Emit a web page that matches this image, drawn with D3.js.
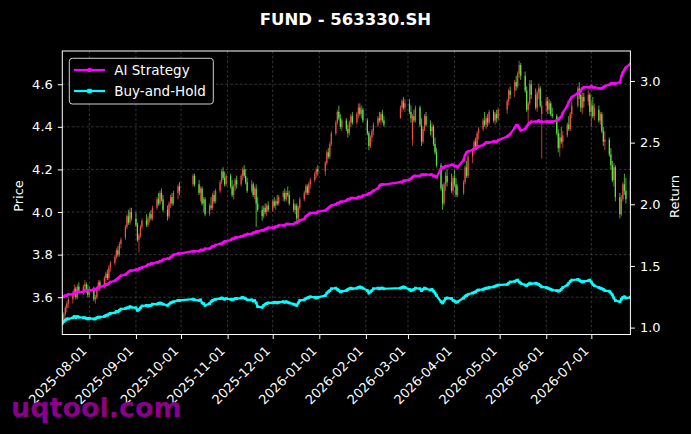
<!DOCTYPE html>
<html>
<head>
<meta charset="utf-8">
<script src="https://cdn.jsdelivr.net/npm/d3@7"></script>
<style>
  html, body { margin: 0; padding: 0; background: #000; }
  svg { display: block; }
  text { font-family: "DejaVu Sans", sans-serif; }
</style>
</head>
<body>
<svg id="chart" width="691" height="434"></svg>
<script>
// trading calendar: first/last session and exchange holidays
const firstDay = "2025-07-14";
const lastDay = "2026-07-27";
const holidays = [
  "2025-10-01","2025-10-02","2025-10-03","2025-10-06","2025-10-07","2025-10-08",
  "2026-01-01","2026-01-02",
  "2026-02-16","2026-02-17","2026-02-18","2026-02-19","2026-02-20","2026-02-23",
  "2026-04-06","2026-05-01","2026-05-04","2026-05-05","2026-06-19"
];

// daily prices, one group per week
const open = [
  3.52,3.49,3.52,3.55,3.57, 3.59,3.62,3.64,3.60,3.65, 3.63,3.65,3.66,3.63,3.61,
  3.64,3.59,3.60,3.64,3.67, 3.65,3.69,3.71,3.69,3.74, 3.76,3.79,3.82,3.80,3.85,
  3.88,3.93,3.98,3.95,4.00, 3.97,3.94,3.87,3.89,3.93, 3.96,3.94,3.97,3.99,3.97,
  4.02,4.06,4.04,4.09,4.06, 4.01,3.98,4.04,4.07,4.04, 4.09,4.12, 4.13,4.17,
  4.13,4.09,4.11,4.04,4.06, 3.99,4.03,4.02,4.08,4.05, 4.10,4.14,4.19,4.16,4.13,
  4.17,4.12,4.08,4.12,4.15, 4.13,4.17,4.20,4.17,4.14, 4.10,4.13,4.08,4.11,4.04,
  4.01,3.98,4.02,4.00,4.03, 4.01,4.05,4.03,4.05,4.04, 4.07,4.09,4.06,4.09,4.08,
  4.04,4.01,4.03,3.97,4.02, 4.06,4.09,4.12,4.09,4.13, 4.15,4.18,4.20,
  4.19,4.23,4.28,4.26,4.32, 4.37,4.42,4.47,4.44,4.40, 4.43,4.39,4.37,4.42,4.45,
  4.42,4.46,4.49,4.46,4.48, 4.43,4.37,4.31,4.35,4.38, 4.41,4.44,4.43,4.46,4.43,
  4.44,4.49,4.52,4.49,
  4.51,4.47,4.34,4.45,4.43, 4.49,4.41,4.33,4.39,4.45, 4.41,4.38,4.40,4.32,4.28,
  4.22,4.11,4.04,4.13,4.17, 4.14,4.10,4.16,4.13,4.08, 4.09,4.14,4.21,4.17,
  4.26,4.29,4.33,4.31,4.37, 4.39,4.43,4.41,4.44,4.42, 4.47,4.43,4.46,4.44,
  4.48,4.52,4.57, 4.57,4.61,4.59,4.65,4.69, 4.64,4.57,4.48,4.51,4.60,
  4.55,4.49,4.56,4.58,4.46, 4.50,4.52,4.48,4.51,4.46, 4.45,4.37,4.30,4.35,4.33,
  4.36,4.41,4.39,4.46, 4.50,4.58,4.55,4.49,4.54, 4.52,4.55,4.47,4.50,4.45,
  4.48,4.43,4.46,4.38,4.33, 4.34,4.27,4.22,4.15,4.21, 4.07,3.99,4.06,4.13,4.10,
  4.05
];
const high = [
  3.54,3.53,3.56,3.58,3.60, 3.63,3.66,3.65,3.66,3.67, 3.66,3.68,3.67,3.66,3.65,
  3.65,3.61,3.65,3.68,3.68, 3.70,3.72,3.73,3.75,3.77, 3.80,3.83,3.84,3.86,3.88,
  3.94,3.99,4.01,4.02,4.02, 4.00,3.95,3.90,3.94,3.97, 3.99,3.98,4.00,4.01,4.03,
  4.07,4.09,4.10,4.11,4.08, 4.03,4.05,4.08,4.09,4.10, 4.13,4.14, 4.18,4.18,
  4.15,4.12,4.12,4.07,4.07, 4.04,4.07,4.09,4.10,4.11, 4.15,4.20,4.21,4.19,4.18,
  4.18,4.15,4.13,4.16,4.17, 4.18,4.21,4.22,4.20,4.16, 4.15,4.14,4.12,4.13,4.07,
  4.03,4.03,4.04,4.04,4.05, 4.06,4.07,4.06,4.08,4.08, 4.10,4.11,4.10,4.12,4.10,
  4.06,4.04,4.04,4.03,4.07, 4.10,4.13,4.13,4.14,4.16, 4.19,4.21,4.22,
  4.24,4.29,4.30,4.33,4.38, 4.43,4.48,4.50,4.46,4.44, 4.44,4.41,4.43,4.46,4.47,
  4.47,4.51,4.51,4.50,4.49, 4.44,4.38,4.36,4.39,4.42, 4.45,4.47,4.47,4.48,4.45,
  4.50,4.53,4.54,4.53,
  4.53,4.50,4.46,4.48,4.50, 4.50,4.44,4.40,4.46,4.47, 4.43,4.42,4.41,4.35,4.30,
  4.23,4.13,4.14,4.19,4.20, 4.18,4.17,4.20,4.16,4.13, 4.15,4.22,4.24,4.27,
  4.30,4.34,4.35,4.38,4.40, 4.44,4.47,4.45,4.46,4.48, 4.48,4.47,4.48,4.49,
  4.53,4.58,4.59, 4.62,4.64,4.66,4.71,4.70, 4.66,4.59,4.52,4.62,4.62,
  4.58,4.57,4.60,4.59,4.52, 4.54,4.54,4.53,4.52,4.49, 4.46,4.39,4.37,4.40,4.38,
  4.42,4.45,4.47,4.52, 4.59,4.61,4.57,4.56,4.56, 4.57,4.56,4.52,4.54,4.51,
  4.50,4.47,4.47,4.40,4.38, 4.35,4.30,4.24,4.23,4.22, 4.09,4.08,4.14,4.18,4.16,
  4.17
];
const low = [
  3.48,3.48,3.51,3.53,3.55, 3.57,3.60,3.59,3.59,3.62, 3.61,3.63,3.62,3.60,3.60,
  3.58,3.57,3.59,3.63,3.63, 3.64,3.67,3.68,3.68,3.72, 3.75,3.78,3.79,3.79,3.83,
  3.87,3.92,3.94,3.94,3.96, 3.93,3.86,3.81,3.88,3.92, 3.93,3.93,3.95,3.96,3.96,
  4.01,4.03,4.03,4.05,4.00, 3.96,3.97,4.02,4.03,4.03, 4.06,4.08, 4.12,4.12,
  4.08,4.05,4.03,4.00,3.98, 3.98,4.01,4.01,4.04,4.04, 4.09,4.13,4.15,4.12,4.12,
  4.11,4.07,4.06,4.10,4.11, 4.12,4.15,4.16,4.13,4.09, 4.09,4.07,4.06,3.93,4.00,
  3.96,3.97,3.99,3.98,4.00, 4.00,4.02,4.01,4.03,4.03, 4.05,4.05,4.05,4.07,4.03,
  4.00,3.99,3.95,3.96,4.01, 4.05,4.08,4.08,4.08,4.11, 4.14,4.16,4.17,
  4.17,4.22,4.25,4.25,4.31, 4.36,4.41,4.43,4.39,4.38, 4.38,4.35,4.36,4.40,4.41,
  4.41,4.44,4.45,4.44,4.42, 4.36,4.29,4.30,4.33,4.36, 4.40,4.42,4.41,4.42,4.40,
  4.44,4.47,4.48,4.47,
  4.46,4.42,4.31,4.42,4.42, 4.40,4.31,4.32,4.38,4.40, 4.36,4.35,4.31,4.27,4.21,
  4.10,4.01,4.03,4.10,4.12, 4.09,4.08,4.12,4.07,4.07, 4.08,4.13,4.16,4.16,
  4.23,4.27,4.29,4.30,4.34, 4.38,4.40,4.39,4.40,4.41, 4.42,4.41,4.42,4.43,
  4.46,4.50,4.53, 4.54,4.57,4.58,4.63,4.62, 4.56,4.47,4.41,4.50,4.53,
  4.48,4.47,4.53,4.49,4.25, 4.47,4.46,4.46,4.45,4.44, 4.36,4.28,4.26,4.32,4.30,
  4.35,4.38,4.38,4.44, 4.49,4.53,4.47,4.46,4.49, 4.50,4.45,4.40,4.44,4.43,
  4.42,4.41,4.37,4.31,4.29, 4.26,4.20,4.14,4.12,4.05, 3.97,3.98,4.05,4.08,4.04,
  4.03
];
const close = [
  3.49,3.52,3.55,3.57,3.59, 3.62,3.64,3.60,3.65,3.63, 3.65,3.66,3.63,3.61,3.64,
  3.59,3.60,3.64,3.67,3.65, 3.69,3.71,3.69,3.74,3.76, 3.79,3.82,3.80,3.85,3.87,
  3.93,3.98,3.95,4.00,3.97, 3.94,3.87,3.89,3.93,3.96, 3.94,3.97,3.99,3.97,4.02,
  4.06,4.04,4.09,4.06,4.01, 3.98,4.04,4.07,4.04,4.09, 4.12,4.10, 4.17,4.13,
  4.09,4.11,4.04,4.06,3.99, 4.03,4.02,4.08,4.05,4.10, 4.14,4.19,4.16,4.13,4.17,
  4.12,4.08,4.12,4.15,4.13, 4.17,4.20,4.17,4.14,4.10, 4.13,4.08,4.11,4.04,4.01,
  3.98,4.02,4.00,4.03,4.01, 4.05,4.03,4.05,4.04,4.07, 4.09,4.06,4.09,4.08,4.04,
  4.01,4.03,3.97,4.02,4.06, 4.09,4.12,4.09,4.13,4.15, 4.18,4.20,4.19,
  4.23,4.28,4.26,4.32,4.37, 4.42,4.47,4.44,4.40,4.43, 4.39,4.37,4.42,4.45,4.42,
  4.46,4.49,4.46,4.48,4.43, 4.37,4.31,4.35,4.38,4.41, 4.44,4.43,4.46,4.43,4.41,
  4.49,4.52,4.49,4.51,
  4.47,4.44,4.45,4.43,4.49, 4.41,4.33,4.39,4.45,4.41, 4.38,4.40,4.32,4.28,4.22,
  4.11,4.04,4.13,4.17,4.14, 4.10,4.16,4.13,4.08,4.12, 4.14,4.21,4.17,4.26,
  4.29,4.33,4.31,4.37,4.39, 4.43,4.41,4.44,4.42,4.47, 4.43,4.46,4.44,4.48,
  4.52,4.57,4.55, 4.61,4.59,4.65,4.69,4.64, 4.57,4.48,4.51,4.60,4.55,
  4.49,4.56,4.58,4.50,4.50, 4.52,4.48,4.51,4.46,4.45, 4.37,4.30,4.35,4.33,4.36,
  4.41,4.39,4.46,4.50, 4.58,4.55,4.49,4.54,4.52, 4.55,4.47,4.50,4.45,4.49,
  4.43,4.46,4.38,4.33,4.34, 4.27,4.22,4.15,4.21,4.07, 3.99,4.06,4.13,4.10,4.06,
  4.15
];

// cumulative return of the two curves (right axis)
const aiStrategy = [
  1.25,1.25,1.26,1.26,1.27, 1.27,1.28,1.28,1.29,1.29, 1.29,1.30,1.30,1.30,1.30,
  1.31,1.31,1.32,1.33,1.33, 1.34,1.35,1.35,1.36,1.37, 1.38,1.39,1.40,1.41,1.42,
  1.43,1.44,1.45,1.46,1.46, 1.47,1.47,1.48,1.48,1.49, 1.50,1.51,1.51,1.52,1.52,
  1.53,1.53,1.54,1.54,1.55, 1.56,1.56,1.57,1.58,1.59, 1.60,1.60, 1.62,1.62,
  1.62,1.63,1.63,1.63,1.64, 1.64,1.65,1.66,1.66,1.67, 1.68,1.68,1.69,1.70,1.70,
  1.71,1.72,1.72,1.73,1.73, 1.74,1.74,1.75,1.75,1.76, 1.76,1.77,1.77,1.78,1.78,
  1.79,1.79,1.80,1.80,1.81, 1.81,1.81,1.82,1.82,1.83, 1.83,1.83,1.84,1.84,1.84,
  1.84,1.85,1.85,1.86,1.87, 1.88,1.90,1.91,1.92,1.93, 1.93,1.93,1.94,
  1.95,1.96,1.97,1.98,1.99, 2.00,2.01,2.01,2.02,2.02, 2.03,2.04,2.04,2.05,2.05,
  2.05,2.06,2.06,2.06,2.07, 2.08,2.09,2.09,2.10,2.11, 2.13,2.15,2.16,2.16,2.16,
  2.18,2.18,2.19,2.19,
  2.20,2.21,2.22,2.23,2.23, 2.23,2.24,2.24,2.24,2.24, 2.24,2.24,2.23,2.23,2.22,
  2.29,2.30,2.30,2.31,2.31, 2.32,2.32,2.31,2.31,2.30, 2.36,2.40,2.42,2.43,
  2.44,2.45,2.45,2.46,2.47, 2.48,2.49,2.50,2.50,2.50, 2.51,2.51,2.51,2.52,
  2.55,2.56,2.57, 2.62,2.64,2.64,2.62,2.60, 2.61,2.63,2.65,2.66,2.67,
  2.67,2.67,2.68,2.67,2.67, 2.67,2.67,2.67,2.67,2.67, 2.68,2.69,2.70,2.71,2.74,
  2.80,2.83,2.85,2.87, 2.90,2.91,2.92,2.94,2.95, 2.95,2.95,2.96,2.95,2.95,
  2.94,2.94,2.94,2.95,2.96, 2.97,2.98,2.98,2.98,2.98, 2.99,3.04,3.07,3.09,3.11,
  3.14
];
const buyAndHold = [
  1.035,1.05,1.06,1.07,1.07, 1.08,1.09,1.08,1.09,1.085, 1.08,1.08,1.075,1.07,1.075,
  1.07,1.07,1.08,1.085,1.085, 1.09,1.10,1.10,1.11,1.115, 1.12,1.13,1.13,1.14,1.15,
  1.155,1.16,1.16,1.17,1.165, 1.16,1.14,1.145,1.16,1.175, 1.18,1.175,1.18,1.18,1.19,
  1.19,1.195,1.20,1.195,1.19, 1.18,1.19,1.20,1.205,1.21, 1.22,1.22, 1.23,1.225,
  1.22,1.225,1.20,1.195,1.18, 1.195,1.21,1.22,1.225,1.23, 1.235,1.24,1.235,1.23,1.235,
  1.23,1.225,1.23,1.235,1.235, 1.24,1.245,1.24,1.235,1.225, 1.225,1.215,1.22,1.20,1.17,
  1.165,1.18,1.19,1.195,1.20, 1.20,1.205,1.205,1.20,1.205, 1.21,1.205,1.21,1.205,1.20,
  1.19,1.185,1.18,1.20,1.22, 1.225,1.235,1.24,1.245,1.25, 1.245,1.24,1.245,
  1.26,1.28,1.29,1.30,1.315, 1.32,1.31,1.30,1.29,1.295, 1.30,1.31,1.315,1.32,1.315,
  1.32,1.325,1.33,1.325,1.32, 1.30,1.28,1.29,1.30,1.315, 1.32,1.315,1.32,1.32,1.315,
  1.32,1.325,1.33,1.325,
  1.31,1.30,1.305,1.31,1.32, 1.315,1.30,1.31,1.32,1.315, 1.305,1.31,1.295,1.28,1.26,
  1.21,1.20,1.215,1.235,1.24, 1.235,1.22,1.215,1.205,1.21, 1.24,1.255,1.26,1.27,
  1.28,1.285,1.29,1.30,1.305, 1.31,1.315,1.32,1.32,1.325, 1.33,1.335,1.34,1.345,
  1.35,1.36,1.37, 1.375,1.38,1.385,1.37,1.36, 1.345,1.34,1.35,1.36,1.355,
  1.36,1.355,1.35,1.34,1.33, 1.325,1.32,1.315,1.31,1.305, 1.30,1.295,1.30,1.31,1.325,
  1.345,1.36,1.375,1.385, 1.39,1.385,1.375,1.37,1.375, 1.38,1.385,1.37,1.35,1.34,
  1.325,1.32,1.315,1.31,1.30, 1.295,1.28,1.265,1.24,1.22, 1.21,1.23,1.245,1.25,1.24,
  1.245
];

const monthTicks = [
  "2025-08-01","2025-09-01","2025-10-01","2025-11-01","2025-12-01","2026-01-01",
  "2026-02-01","2026-03-01","2026-04-01","2026-05-01","2026-06-01","2026-07-01"
];
const priceTicks = [3.6, 3.8, 4.0, 4.2, 4.4, 4.6];
const returnTicks = [1.0, 1.5, 2.0, 2.5, 3.0];

const parse = d3.timeParse("%Y-%m-%d");
const fmt = d3.timeFormat("%Y-%m-%d");

// build session dates
const holidaySet = new Set(holidays);
const dates = d3.timeDay.range(parse(firstDay), d3.timeDay.offset(parse(lastDay), 1))
    .filter(d => d.getDay() !== 0 && d.getDay() !== 6 && !holidaySet.has(fmt(d)));

const n = Math.min(dates.length, close.length);
const data = d3.range(n).map(i => ({
    date: dates[i], o: open[i], h: high[i], l: low[i], c: close[i],
    ai: aiStrategy[i], bh: buyAndHold[i]
}));

const svg = d3.select("#chart");
const plot = { left: 62.3, right: 630.4, top: 51, bottom: 334.5 };

svg.append("rect").attr("width", 691).attr("height", 434).attr("fill", "#000");

// scales
const x = d3.scaleTime()
    .domain([dates[0], dates[n - 1]])
    .range([plot.left, plot.right]);
const yPrice = d3.scaleLinear().domain([3.425, 4.756]).range([plot.bottom, plot.top]);
const yRet = d3.scaleLinear().domain([0.944, 3.243]).range([plot.bottom, plot.top]);

svg.append("clipPath").attr("id", "clip")
    .append("rect")
    .attr("x", plot.left).attr("y", plot.top)
    .attr("width", plot.right - plot.left).attr("height", plot.bottom - plot.top);

// grid
const grid = svg.append("g")
    .attr("stroke", "#4a4a4a")
    .attr("stroke-width", 0.7)
    .attr("stroke-dasharray", "2.6,2.2");
grid.selectAll(".gx")
    .data(monthTicks.map(parse))
    .enter().append("line")
    .attr("x1", d => x(d)).attr("x2", d => x(d))
    .attr("y1", plot.top).attr("y2", plot.bottom);
grid.selectAll(".gy")
    .data(priceTicks)
    .enter().append("line")
    .attr("x1", plot.left).attr("x2", plot.right)
    .attr("y1", d => yPrice(d)).attr("y2", d => yPrice(d));

// candles (red up, green down)
const upColor = "#ee5148";
const downColor = "#62e548";
const candles = svg.append("g").attr("clip-path", "url(#clip)");
const candle = candles.selectAll(".candle")
    .data(data)
    .enter().append("g")
    .attr("class", "candle");
candle.append("line")
    .attr("x1", d => x(d.date)).attr("x2", d => x(d.date))
    .attr("y1", d => yPrice(d.h)).attr("y2", d => yPrice(d.l))
    .attr("stroke", d => d.c >= d.o ? upColor : downColor)
    .attr("stroke-width", 0.75);
candle.append("rect")
    .attr("x", d => x(d.date) - 0.6)
    .attr("width", 1.2)
    .attr("y", d => yPrice(Math.max(d.o, d.c)))
    .attr("height", d => Math.max(0.6, Math.abs(yPrice(d.o) - yPrice(d.c))))
    .attr("fill", d => d.c >= d.o ? upColor : downColor);

// return curves
const lines = svg.append("g").attr("clip-path", "url(#clip)");
const aiLine = d3.line().x(d => x(d.date)).y(d => yRet(d.ai));
const bhLine = d3.line().x(d => x(d.date)).y(d => yRet(d.bh));

lines.append("path").datum(data)
    .attr("d", bhLine)
    .attr("fill", "none").attr("stroke", "#00ffff").attr("stroke-width", 2.2);
lines.selectAll(".bhm")
    .data(data)
    .enter().append("rect")
    .attr("x", d => x(d.date) - 1.4).attr("y", d => yRet(d.bh) - 1.4)
    .attr("width", 2.8).attr("height", 2.8)
    .attr("fill", "#00ffff");

lines.append("path").datum(data)
    .attr("d", aiLine)
    .attr("fill", "none").attr("stroke", "#ff00ff").attr("stroke-width", 2.2);
lines.selectAll(".aim")
    .data(data)
    .enter().append("circle")
    .attr("cx", d => x(d.date)).attr("cy", d => yRet(d.ai))
    .attr("r", 1.5)
    .attr("fill", "#ff00ff");

// axes
function styleAxis(g) {
    g.select(".domain").remove();
    g.selectAll(".tick line").attr("stroke", "#fff").attr("stroke-width", 1);
    g.selectAll(".tick text")
        .attr("fill", "#fff")
        .attr("font-size", "13px")
        .attr("font-family", "DejaVu Sans");
}

svg.append("g")
    .attr("transform", `translate(${plot.left},0)`)
    .call(d3.axisLeft(yPrice).tickValues(priceTicks).tickFormat(d3.format(".1f"))
        .tickSize(4.5).tickPadding(5))
    .call(styleAxis);

svg.append("g")
    .attr("transform", `translate(${plot.right},0)`)
    .call(d3.axisRight(yRet).tickValues(returnTicks).tickFormat(d3.format(".1f"))
        .tickSize(4.5).tickPadding(5))
    .call(styleAxis);

const xAxis = svg.append("g")
    .attr("transform", `translate(0,${plot.bottom})`)
    .call(d3.axisBottom(x).tickValues(monthTicks.map(parse)).tickFormat(fmt)
        .tickSize(4.5))
    .call(styleAxis);
xAxis.selectAll(".tick text")
    .attr("x", 0).attr("y", 0).attr("dy", 0)
    .attr("text-anchor", "end")
    .attr("transform", "translate(-2.2,17.2) rotate(-45)");

// spines
svg.append("rect")
    .attr("x", plot.left).attr("y", plot.top)
    .attr("width", plot.right - plot.left).attr("height", plot.bottom - plot.top)
    .attr("fill", "none").attr("stroke", "#fff").attr("stroke-width", 1);

// axis titles
svg.append("text")
    .attr("transform", "translate(23,196) rotate(-90)")
    .attr("text-anchor", "middle")
    .attr("fill", "#fff").attr("font-size", "13px")
    .text("Price");
svg.append("text")
    .attr("transform", "translate(679,196.5) rotate(-90)")
    .attr("text-anchor", "middle")
    .attr("fill", "#fff").attr("font-size", "13px")
    .text("Return");

// title
svg.append("text")
    .attr("x", 345.5).attr("y", 24.5)
    .attr("text-anchor", "middle")
    .attr("fill", "#fff").attr("font-size", "16.5px").attr("font-weight", "bold")
    .text("FUND - 563330.SH");

// legend
const legend = svg.append("g");
legend.append("rect")
    .attr("x", 69.3).attr("y", 58.3).attr("width", 144).attr("height", 45.7)
    .attr("rx", 3).attr("fill", "#000").attr("fill-opacity", 0.8)
    .attr("stroke", "#d0d0d0").attr("stroke-width", 1);
const legendItems = [
    { label: "AI Strategy", color: "#ff00ff", marker: "circle", y: 70 },
    { label: "Buy-and-Hold", color: "#00ffff", marker: "square", y: 91 }
];
legendItems.forEach(item => {
    legend.append("line")
        .attr("x1", 74).attr("x2", 105).attr("y1", item.y).attr("y2", item.y)
        .attr("stroke", item.color).attr("stroke-width", 2.2);
    if (item.marker === "circle") {
        legend.append("circle").attr("cx", 89.5).attr("cy", item.y).attr("r", 2.3)
            .attr("fill", item.color);
    } else {
        legend.append("rect").attr("x", 87.3).attr("y", item.y - 2.2)
            .attr("width", 4.4).attr("height", 4.4).attr("fill", item.color);
    }
    legend.append("text")
        .attr("x", 114.3).attr("y", item.y).attr("dy", "0.35em")
        .attr("fill", "#fff").attr("font-size", "13.5px")
        .text(item.label);
});

// watermark
svg.append("text")
    .attr("x", 11).attr("y", 417)
    .attr("fill", "#8b008b").attr("font-size", "27px").attr("font-weight", "bold")
    .text("uqtool.com");
</script>
</body>
</html>
